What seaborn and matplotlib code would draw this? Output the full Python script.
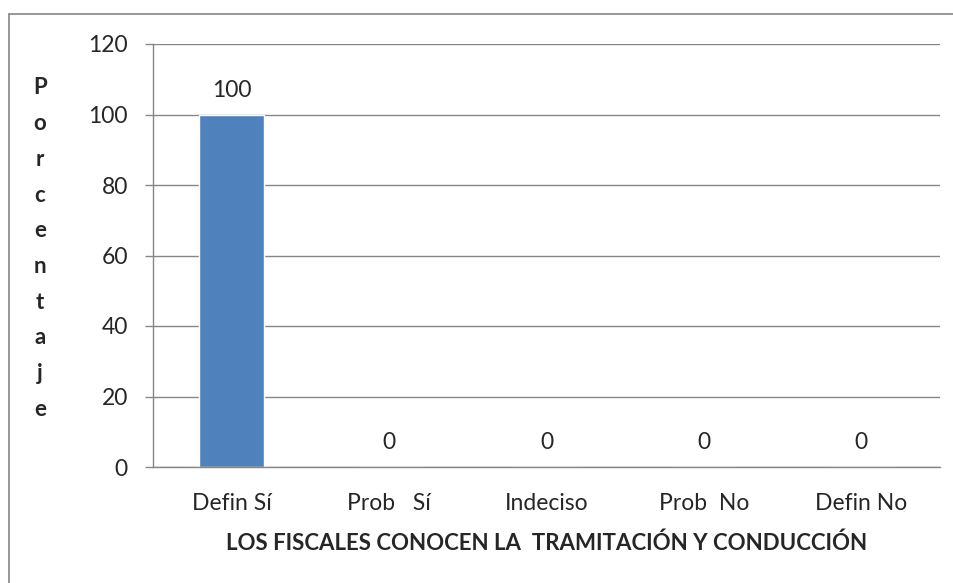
import matplotlib
matplotlib.use("Agg")
import matplotlib.pyplot as plt
import seaborn as sns
import pandas as pd
from matplotlib.lines import Line2D

# data
categorias = ["Defin Sí", "Prob   Sí", "Indeciso", "Prob  No", "Defin No"]
porcentajes = [100, 0, 0, 0, 0]
y_ticks = [0, 20, 40, 60, 80, 100, 120]
titulo_x = "LOS FISCALES CONOCEN LA  TRAMITACIÓN Y CONDUCCIÓN"
titulo_y = "Porcentaje"

sns.set_theme(style="white")
plt.rcParams['font.family'] = ['Lato', 'DejaVu Sans']

df = pd.DataFrame({"cat": categorias, "pct": porcentajes})

fig = plt.figure(figsize=(9.54, 5.83), dpi=100)
ax = fig.add_axes([153 / 954, 1 - 467 / 583, 787 / 954, 423 / 583])

sns.barplot(data=df, x="cat", y="pct", color="#4F81BD", saturation=1,
            width=0.41, ax=ax)

ax.set_ylim(0, 120)
ax.set_yticks(y_ticks)
ax.yaxis.grid(True, color="#868686", linewidth=1)
ax.set_axisbelow(True)
for s in ["top", "right"]:
    ax.spines[s].set_visible(False)
for s in ["left", "bottom"]:
    ax.spines[s].set_color("#868686")
    ax.spines[s].set_linewidth(1)

# category boundary ticks on the x axis
ax.set_xticks([i - 0.5 for i in range(len(categorias) + 1)], minor=True)
ax.tick_params(axis="x", which="minor", length=7, color="#868686", width=1)
ax.tick_params(axis="x", which="major", length=0, pad=19, labelsize=16.5)
ax.tick_params(axis="y", length=6, color="#868686", width=1, left=True,
               pad=12, labelsize=16.5)
ax.set_xlim(-0.5, len(categorias) - 0.5)

ax.bar_label(ax.containers[0], labels=[str(v) for v in porcentajes],
             padding=10, fontsize=16.5)

ax.set_xlabel(titulo_x, fontsize=16, fontweight="bold", labelpad=13)
ax.set_ylabel("")

# stacked vertical y title
for i, letra in enumerate(titulo_y):
    fig.text(40 / 954, 1 - (88 + i * 35.7) / 583, letra, fontsize=16,
             fontweight="bold", ha="center", va="center")

# outer chart border (only top and left edges are visible in the crop)
fig.add_artist(Line2D([9 / 954, 1], [1 - 14 / 583] * 2, transform=fig.transFigure,
                      color="#868686", linewidth=1.2))
fig.add_artist(Line2D([9 / 954] * 2, [0, 1 - 14 / 583], transform=fig.transFigure,
                      color="#868686", linewidth=1.2))

fig.savefig("out.png", dpi=100)
